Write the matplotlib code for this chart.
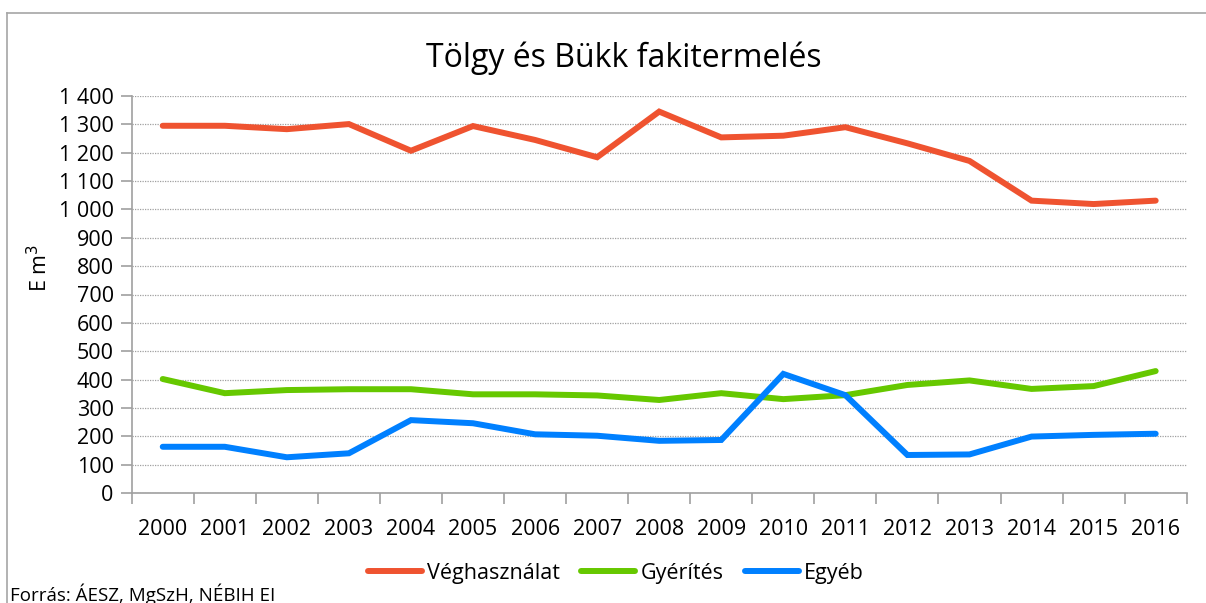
import matplotlib
matplotlib.use("Agg")
import matplotlib.pyplot as plt
from matplotlib.lines import Line2D

plt.rcParams['font.family'] = ['Open Sans', 'DejaVu Sans']

years = [str(y) for y in range(2000, 2017)]
veghasznalat = [1295, 1295, 1283, 1301, 1207, 1294, 1245, 1184, 1345, 1254,
                1260, 1290, 1233, 1171, 1031, 1019, 1031]
gyerites = [402, 352, 363, 366, 366, 348, 348, 344, 328, 352,
            331, 345, 381, 397, 367, 377, 430]
egyeb = [163, 163, 126, 140, 257, 246, 207, 202, 184, 187,
         420, 345, 134, 136, 199, 205, 209]

series = [("Véghasználat", veghasznalat, "#EF5330"),
          ("Gyérítés", gyerites, "#66C800"),
          ("Egyéb", egyeb, "#0080FF")]

W, H = 1206, 603
fig = plt.figure(figsize=(W / 100, H / 100), dpi=100)
ax = fig.add_axes([131.7 / W, 1 - 493 / H, 1055 / W, 397 / H])

x = list(range(len(years)))
for name, vals, col in series:
    ax.plot(x, vals, color=col, lw=4.3, solid_capstyle='round',
            solid_joinstyle='miter', label=name)

ax.set_xlim(-0.5, len(years) - 0.5)
ax.set_ylim(0, 1400)
ax.set_yticks(range(0, 1401, 100))
ax.set_yticklabels([f"{v:,}".replace(",", " ") for v in range(0, 1401, 100)])
ax.yaxis.grid(True, ls=(0, (1, 1)), color='#A0A0A0', lw=0.9)
ax.set_axisbelow(True)

ax.set_xticks(x)
ax.set_xticklabels(years)
ax.set_xticks([i - 0.5 for i in range(len(years) + 1)], minor=True)
ax.tick_params(axis='x', which='major', length=0, pad=19, labelsize=15.5)
ax.tick_params(axis='x', which='minor', length=8, color='#A0A0A0', width=1.2)
ax.tick_params(axis='y', length=8, color='#A0A0A0', width=1.2, labelsize=15.5, pad=5)

for s in ['top', 'right']:
    ax.spines[s].set_visible(False)
for s in ['left', 'bottom']:
    ax.spines[s].set_color('#A0A0A0')
    ax.spines[s].set_linewidth(1.2)

# y label sits a bit above the middle of the axis, as in the original
fig.text(40 / W, 1 - 268 / H, "E m$^3$", rotation=90, ha='center', va='center',
         fontsize=15.5)
fig.text(624 / W, 1 - 58 / H, "Tölgy és Bükk fakitermelés", ha='center',
         va='center', fontsize=23)

handles = [Line2D([], [], color=c, lw=4.3, solid_capstyle='round') for _, _, c in series]
fig.legend(handles, [n for n, _, _ in series], loc='center',
           bbox_to_anchor=(616 / W, 1 - 573 / H), ncol=3, frameon=False,
           fontsize=15.5, handlelength=2.5, handletextpad=0.25, columnspacing=1.0)

fig.text(10 / W, 1 - 594 / H, "Forrás: ÁESZ, MgSzH, NÉBIH EI", ha='left',
         va='center', fontsize=13.5)

# chart frame (left and top edges)
fig.add_artist(Line2D([7 / W, 7 / W], [0, 1 - 13 / H], color='#A6A6A6', lw=1.2,
                      transform=fig.transFigure))
fig.add_artist(Line2D([7 / W, 1], [1 - 13 / H, 1 - 13 / H], color='#A6A6A6', lw=1.2,
                      transform=fig.transFigure))

fig.savefig("out.png", dpi=100)
